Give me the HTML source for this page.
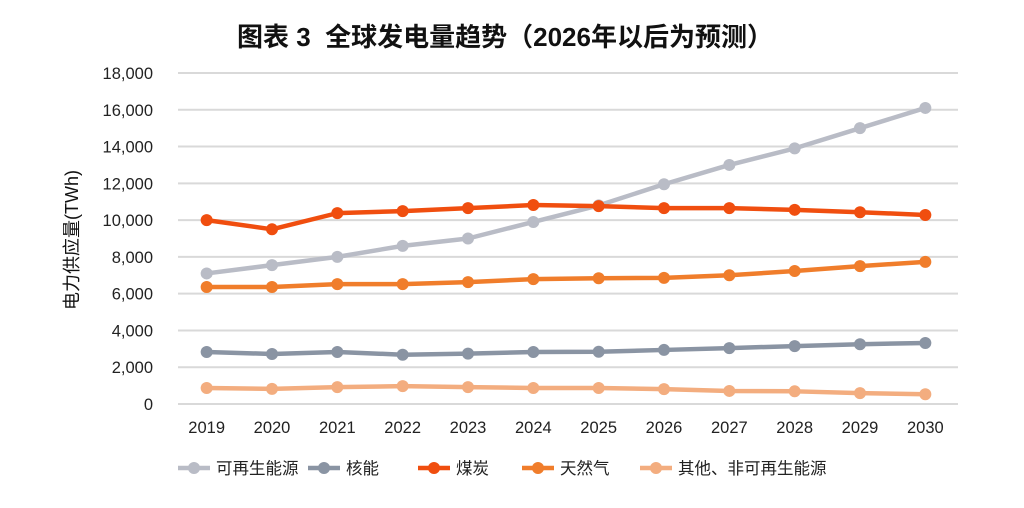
<!DOCTYPE html>
<html><head><meta charset="utf-8"><style>
body{margin:0;background:#fff;font-family:"Liberation Sans","Noto Sans CJK SC",sans-serif}
</style></head><body>
<svg width="1024" height="503" id="c" font-family="Liberation Sans, Noto Sans CJK SC, sans-serif">
<text x="505" y="46" text-anchor="middle" font-size="26" font-weight="bold" fill="#111" xml:space="preserve">图表 3  全球发电量趋势（2026年以后为预测）</text>
<text transform="translate(78,240) rotate(-90)" text-anchor="middle" font-size="18" fill="#111">电力供应量(TWh)</text>
</svg>
<script>
const years=["2019","2020","2021","2022","2023","2024","2025","2026","2027","2028","2029","2030"];
const yTicks=[0,2000,4000,6000,8000,10000,12000,14000,16000,18000];
const renewable=[7100,7550,8000,8600,9000,9900,10800,11950,13000,13900,15000,16100];
const nuclear=[2830,2720,2830,2680,2740,2830,2840,2940,3040,3150,3250,3320];
const coal=[10000,9500,10380,10490,10650,10820,10760,10650,10650,10560,10430,10280];
const gas=[6360,6360,6520,6520,6630,6790,6840,6860,7000,7230,7500,7730];
const other=[870,820,920,970,920,870,870,810,710,690,590,530];
const names=["可再生能源","核能","煤炭","天然气","其他、非可再生能源"];
const colors=["#b9bcc6","#8a94a3","#f04e0f","#f07d2b","#f3ad7f"];
const series=[renewable,nuclear,coal,gas,other];
const svg=document.getElementById('c');const NS="http://www.w3.org/2000/svg";
const x0=174,x1=958,y0=404,y1=73;
const xs=i=>x0+(i+0.5)*(x1-x0)/years.length;
const ys=v=>y0-(v/18000)*(y0-y1);
function mk(t,a,txt){const e=document.createElementNS(NS,t);for(const k in a)e.setAttribute(k,a[k]);if(txt!==undefined)e.textContent=txt;svg.appendChild(e);return e;}
yTicks.forEach(v=>{
const g=mk('line',{x1:178,x2:x1,y1:ys(v),y2:ys(v),stroke:'#d9d9d9','stroke-width':2});


const t=mk('text',{x:153,y:ys(v)+6,'text-anchor':'end','font-size':16.5,fill:'#222'},v.toLocaleString('en-US'));


});
years.forEach((y,i)=>{
const t=mk('text',{x:xs(i),y:433,'text-anchor':'middle','font-size':16.5,fill:'#222'},y);


});
series.forEach((s,k)=>{
const p=mk('polyline',{points:s.map((v,i)=>xs(i)+','+ys(v)).join(' '),fill:'none',stroke:colors[k],'stroke-width':4.5,'stroke-linejoin':'round'});


s.forEach((v,i)=>{
const c=mk('circle',{cx:xs(i),cy:ys(v),r:6,fill:colors[k]});


});
});
const lx=[178,308,418,522,640];
names.forEach((n,k)=>{
const l=mk('line',{x1:lx[k],x2:lx[k]+32,y1:468,y2:468,stroke:colors[k],'stroke-width':4.5});


const c=mk('circle',{cx:lx[k]+16,cy:468,r:6,fill:colors[k]});


const t=mk('text',{x:lx[k]+38,y:474,'font-size':16.5,fill:'#222'},n);


});
</script>
</body></html>
